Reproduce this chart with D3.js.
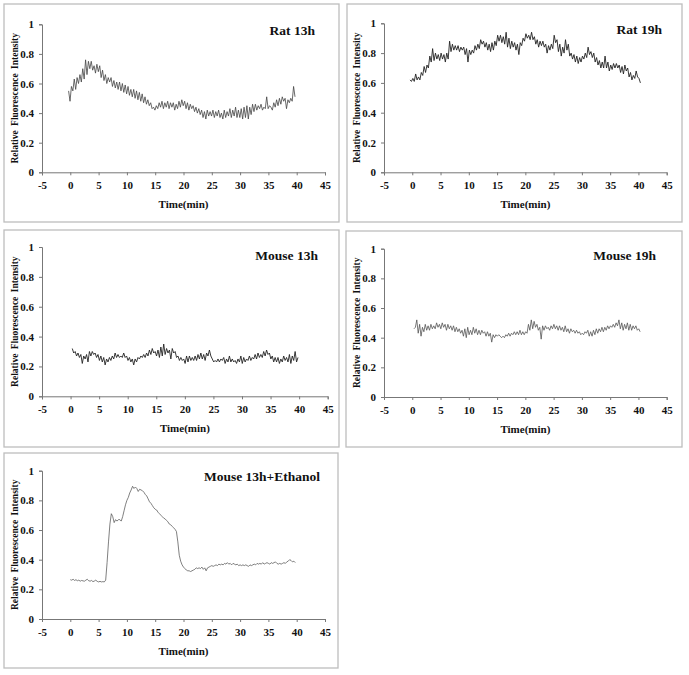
<!DOCTYPE html>
<html>
<head>
<meta charset="utf-8">
<script src="https://cdn.jsdelivr.net/npm/d3@7"></script>
<style>
  body { margin: 0; background: #fff; }
  svg text { font-family: "Liberation Serif", "Times New Roman", serif; font-weight: bold; fill: #111; }
</style>
</head>
<body>
<div id="chart"></div>
<script>
// tick values shared by every panel
const xTicks = [-5, 0, 5, 10, 15, 20, 25, 30, 35, 40, 45];
const yTicks = [0, 0.2, 0.4, 0.6, 0.8, 1];
const titles = ["Rat 13h", "Rat 19h", "Mouse 13h", "Mouse 19h", "Mouse 13h+Ethanol"];

// sampling of each trace: first time point (min) and step (min)
const startTimes = [-0.3, -0.4, 0.3, 0.3, 0];
const timeStep = 0.25;

// relative fluorescence intensity
const rat13h = [
  0.55,0.48,0.58,0.55,0.63,0.56,0.64,0.60,0.66,0.61,0.70,0.63,0.76,0.66,0.75,0.70,0.75,0.69,0.72,0.67,
  0.73,0.68,0.72,0.64,0.69,0.62,0.66,0.60,0.64,0.61,0.64,0.58,0.62,0.57,0.61,0.56,0.61,0.55,0.60,0.54,
  0.59,0.53,0.58,0.52,0.56,0.51,0.56,0.50,0.55,0.49,0.54,0.48,0.53,0.47,0.51,0.46,0.49,0.45,0.47,0.43,
  0.44,0.42,0.45,0.43,0.47,0.44,0.48,0.43,0.47,0.44,0.48,0.43,0.47,0.44,0.47,0.42,0.46,0.43,0.48,0.44,
  0.49,0.45,0.48,0.43,0.47,0.42,0.46,0.43,0.45,0.41,0.44,0.40,0.43,0.39,0.42,0.37,0.41,0.36,0.42,0.38,
  0.41,0.38,0.42,0.37,0.41,0.38,0.42,0.37,0.40,0.36,0.42,0.37,0.41,0.38,0.43,0.37,0.42,0.38,0.44,0.37,
  0.42,0.37,0.43,0.36,0.44,0.37,0.45,0.36,0.44,0.39,0.46,0.41,0.46,0.42,0.45,0.43,0.46,0.42,0.44,0.43,
  0.51,0.43,0.45,0.44,0.42,0.47,0.44,0.49,0.45,0.50,0.46,0.51,0.48,0.50,0.43,0.49,0.47,0.50,0.48,0.58,
  0.51
];
const rat19h = [
  0.62,0.61,0.63,0.61,0.66,0.62,0.64,0.62,0.67,0.65,0.71,0.67,0.72,0.70,0.78,0.74,0.83,0.75,0.80,0.76,
  0.79,0.75,0.80,0.76,0.79,0.74,0.80,0.76,0.88,0.81,0.86,0.82,0.85,0.82,0.85,0.81,0.84,0.82,0.84,0.79,
  0.83,0.74,0.82,0.79,0.82,0.80,0.85,0.82,0.86,0.83,0.89,0.86,0.88,0.84,0.87,0.82,0.86,0.81,0.87,0.82,
  0.88,0.85,0.92,0.88,0.92,0.87,0.91,0.86,0.94,0.84,0.90,0.83,0.88,0.84,0.87,0.82,0.86,0.79,0.87,0.85,
  0.90,0.88,0.93,0.90,0.92,0.89,0.94,0.89,0.91,0.86,0.89,0.84,0.88,0.85,0.88,0.84,0.86,0.80,0.85,0.82,
  0.86,0.83,0.92,0.87,0.89,0.81,0.86,0.78,0.84,0.80,0.89,0.82,0.86,0.78,0.80,0.76,0.79,0.74,0.78,0.73,
  0.77,0.74,0.78,0.76,0.80,0.77,0.84,0.79,0.81,0.77,0.80,0.74,0.77,0.72,0.75,0.70,0.74,0.70,0.78,0.70,
  0.74,0.68,0.72,0.69,0.73,0.70,0.73,0.70,0.72,0.67,0.71,0.66,0.72,0.68,0.70,0.64,0.67,0.62,0.65,0.63,
  0.68,0.64,0.63,0.60
];
const mouse13h = [
  0.32,0.29,0.30,0.27,0.29,0.26,0.28,0.22,0.27,0.25,0.28,0.23,0.30,0.27,0.30,0.28,0.29,0.26,0.28,0.24,
  0.27,0.23,0.26,0.21,0.25,0.23,0.26,0.24,0.27,0.25,0.29,0.26,0.28,0.26,0.27,0.26,0.29,0.26,0.27,0.24,
  0.26,0.23,0.25,0.21,0.25,0.23,0.26,0.25,0.27,0.26,0.28,0.26,0.29,0.27,0.31,0.28,0.32,0.29,0.30,0.27,
  0.31,0.26,0.33,0.27,0.35,0.28,0.32,0.29,0.31,0.25,0.32,0.29,0.30,0.26,0.27,0.24,0.26,0.24,0.25,0.22,
  0.27,0.23,0.27,0.24,0.26,0.24,0.27,0.24,0.28,0.25,0.29,0.25,0.28,0.24,0.29,0.27,0.31,0.27,0.25,0.23,
  0.24,0.23,0.25,0.23,0.25,0.24,0.26,0.22,0.25,0.23,0.27,0.23,0.25,0.23,0.24,0.22,0.25,0.23,0.27,0.22,
  0.26,0.23,0.25,0.24,0.27,0.24,0.26,0.25,0.28,0.25,0.29,0.26,0.28,0.26,0.30,0.27,0.31,0.28,0.29,0.25,
  0.27,0.23,0.26,0.23,0.26,0.22,0.25,0.23,0.27,0.24,0.26,0.23,0.28,0.22,0.27,0.24,0.30,0.23,0.26
];
const mouse19h = [
  0.46,0.47,0.52,0.43,0.49,0.41,0.47,0.44,0.49,0.45,0.48,0.45,0.49,0.46,0.48,0.46,0.50,0.47,0.49,0.46,
  0.50,0.47,0.49,0.45,0.49,0.46,0.48,0.45,0.48,0.44,0.47,0.44,0.46,0.43,0.45,0.41,0.46,0.40,0.47,0.42,
  0.45,0.42,0.47,0.43,0.46,0.42,0.45,0.42,0.45,0.43,0.44,0.41,0.44,0.41,0.43,0.37,0.42,0.40,0.42,0.41,
  0.42,0.41,0.40,0.41,0.40,0.42,0.41,0.43,0.41,0.43,0.42,0.44,0.42,0.44,0.42,0.45,0.42,0.44,0.42,0.44,
  0.43,0.49,0.45,0.52,0.46,0.51,0.47,0.49,0.45,0.47,0.39,0.48,0.45,0.48,0.46,0.47,0.45,0.48,0.46,0.49,
  0.46,0.48,0.45,0.48,0.45,0.47,0.44,0.48,0.44,0.46,0.43,0.46,0.44,0.45,0.43,0.45,0.43,0.44,0.42,0.43,
  0.42,0.44,0.43,0.45,0.41,0.44,0.41,0.45,0.42,0.46,0.43,0.46,0.44,0.47,0.44,0.47,0.45,0.48,0.46,0.48,
  0.47,0.49,0.47,0.50,0.48,0.52,0.46,0.50,0.45,0.49,0.46,0.50,0.45,0.49,0.45,0.48,0.46,0.48,0.45,0.46,
  0.44
];
const mouse13hEthanol = [
  0.265,0.262,0.268,0.260,0.265,0.258,0.262,0.255,0.260,0.257,0.255,0.262,0.268,0.258,0.255,0.260,0.252,0.256,0.262,0.254,
  0.250,0.254,0.250,0.252,0.250,0.262,0.380,0.520,0.640,0.710,0.690,0.650,0.670,0.660,0.670,0.670,0.660,0.690,0.730,0.770,
  0.800,0.820,0.850,0.870,0.895,0.880,0.890,0.880,0.860,0.875,0.870,0.865,0.855,0.840,0.830,0.810,0.790,0.780,0.765,0.750,
  0.740,0.735,0.720,0.710,0.700,0.690,0.680,0.675,0.665,0.655,0.640,0.635,0.625,0.615,0.605,0.590,0.520,0.430,0.390,0.365,
  0.350,0.340,0.330,0.325,0.325,0.320,0.325,0.330,0.335,0.345,0.340,0.345,0.340,0.350,0.335,0.345,0.325,0.345,0.350,0.355,
  0.360,0.355,0.360,0.365,0.360,0.370,0.365,0.370,0.365,0.375,0.370,0.380,0.370,0.375,0.365,0.375,0.370,0.365,0.370,0.360,
  0.365,0.360,0.365,0.360,0.365,0.360,0.355,0.365,0.360,0.365,0.370,0.365,0.375,0.370,0.375,0.370,0.380,0.370,0.375,0.380,
  0.375,0.370,0.380,0.375,0.380,0.385,0.375,0.370,0.375,0.370,0.375,0.380,0.375,0.385,0.390,0.400,0.395,0.385,0.390,0.380
];
const series = [rat13h, rat19h, mouse13h, mouse19h, mouse13hEthanol];

// where each panel sits on the page (box = grey frame, plot = axes area, titleX/titleY = title anchor)
const layout = [
  {box: [4, 4, 335, 218],   plot: [42, 325, 24.3, 172.3],  titleX: 315, titleY: 35,  stroke: "#444", width: 0.8},
  {box: [347, 4, 335, 218], plot: [384, 666.7, 23.3, 172.3], titleX: 662, titleY: 34, stroke: "#222", width: 0.9},
  {box: [4, 230, 335, 217], plot: [42, 327.7, 247, 396.3], titleX: 318, titleY: 260, stroke: "#222", width: 0.9},
  {box: [346, 231, 336, 216], plot: [384, 666.7, 248.7, 397], titleX: 656, titleY: 260, stroke: "#555", width: 0.8},
  {box: [4, 453, 334, 215], plot: [42, 325, 470.7, 619], titleX: 320, titleY: 481, stroke: "#555", width: 0.75}
];

const svg = d3.select("#chart")
  .append("svg")
  .attr("width", 689)
  .attr("height", 675);

svg.append("rect").attr("width", 689).attr("height", 675).attr("fill", "#fff");

function drawPanel(i) {
  const L = layout[i];
  const [left, right, top, bottom] = L.plot;
  const g = svg.append("g");

  g.append("rect")
    .attr("x", L.box[0]).attr("y", L.box[1])
    .attr("width", L.box[2]).attr("height", L.box[3])
    .attr("fill", "none")
    .attr("stroke", "#bdbdbd")
    .attr("stroke-width", 1.3);

  const x = d3.scaleLinear().domain([-5, 45]).range([left, right]);
  const y = d3.scaleLinear().domain([0, 1]).range([bottom, top]);

  //axes (plain hyphen for the minus sign, like the original)
  const xAxis = g.append("g")
    .attr("transform", "translate(0," + bottom + ")")
    .call(d3.axisBottom(x).tickValues(xTicks).tickSize(3).tickPadding(6).tickFormat(d => String(d)));
  const yAxis = g.append("g")
    .attr("transform", "translate(" + left + ",0)")
    .call(d3.axisLeft(y).tickValues(yTicks).tickSize(3).tickPadding(5).tickFormat(d => String(d)));
  [xAxis, yAxis].forEach(a => {
    a.select(".domain").attr("stroke", "#777");
    a.selectAll(".tick line").attr("stroke", "#777");
    a.selectAll(".tick text").attr("fill", "#111")
      .style("font-family", '"Liberation Serif", serif')
      .style("font-weight", "bold")
      .style("font-size", "11px");
  });

  //axis titles
  g.append("text")
    .attr("x", (left + right) / 2)
    .attr("y", bottom + 36)
    .attr("text-anchor", "middle")
    .style("font-size", "11px")
    .text("Time(min)");
  g.append("text")
    .attr("transform", "translate(" + (left - 24) + "," + ((top + bottom) / 2) + ") rotate(-90)")
    .attr("text-anchor", "middle")
    .style("font-size", "9.5px")
    .style("word-spacing", "2px")
    .text("Relative Fluorescence Intensity");

  //panel title
  g.append("text")
    .attr("x", L.titleX)
    .attr("y", L.titleY)
    .attr("text-anchor", "end")
    .style("font-size", "13.5px")
    .text(titles[i]);

  //trace
  const line = d3.line()
    .x((d, k) => x(startTimes[i] + k * timeStep))
    .y(d => y(d));
  g.append("path")
    .datum(series[i])
    .attr("fill", "none")
    .attr("stroke", L.stroke)
    .attr("stroke-width", L.width)
    .attr("d", line);
}

for (let i = 0; i < series.length; i++) drawPanel(i);
</script>
</body>
</html>
